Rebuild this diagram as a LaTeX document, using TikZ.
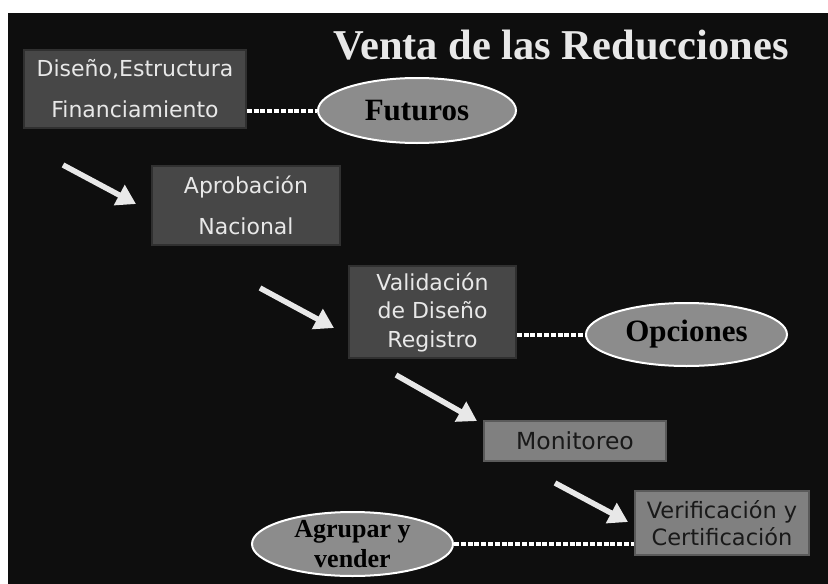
\documentclass[tikz,border=0pt]{standalone}
\usepackage{fontspec}
\setmainfont{Liberation Serif}
\newfontfamily\boxfont{DejaVu Sans}
\usetikzlibrary{arrows.meta,shapes.geometric}
\definecolor{bgc}{HTML}{0E0E0E}
\definecolor{darkfill}{HTML}{474747}
\definecolor{darkedge}{HTML}{303030}
\definecolor{midfill}{HTML}{808080}
\definecolor{midedge}{HTML}{5A5A5A}
\definecolor{ellfill}{HTML}{8C8C8C}
\definecolor{lighttext}{HTML}{E8E8E8}
\definecolor{arrowc}{HTML}{E8E8E8}
\begin{document}
\begin{tikzpicture}[x=1pt,y=-1pt,
  darkbox/.style={rectangle,fill=darkfill,draw=darkedge,line width=1.5pt,inner sep=0pt,
    align=center,text=lighttext,font=\boxfont\fontsize{22}{41}\selectfont},
  lightbox/.style={rectangle,fill=midfill,draw=midedge,line width=1.5pt,inner sep=0pt,
    align=center,text=black!90,font=\boxfont\fontsize{22.5}{27}\selectfont},
  oval/.style={ellipse,fill=ellfill,draw=white,line width=2pt,inner sep=0pt,
    align=center,text=black,font=\bfseries\fontsize{31}{31}\selectfont},
  flowarrow/.style={draw=arrowc,line width=5.5pt,-{Triangle[width=22pt,length=19pt]}},
  dots/.style={draw=white,line width=4pt,dash pattern=on 5pt off 1.8pt}]
\useasboundingbox (0,0) rectangle (828,584);
\fill[white] (0,0) rectangle (828,584);
\fill[bgc] (8,13) rectangle (828,584);

\node[text=lighttext,font=\bfseries\fontsize{42.5}{42.5}\selectfont] (title) at (561,45) {Venta de las Reducciones};

\node[darkbox,minimum width=222pt,minimum height=78pt] (b1) at (135,89) {Diseño,Estructura\\Financiamiento};
\node[darkbox,minimum width=188pt,minimum height=79pt] (b2) at (246,205.5) {Aprobación\\Nacional};
\node[darkbox,minimum width=167pt,minimum height=92pt,font=\boxfont\fontsize{22}{28.5}\selectfont] (b3) at (432.5,312) {Validación\\de Diseño\\Registro};
\node[lightbox,minimum width=182pt,minimum height=40pt,font=\boxfont\fontsize{23.5}{27}\selectfont] (b4) at (575,441) {Monitoreo};
\node[lightbox,minimum width=174pt,minimum height=64pt] (b5) at (722,523) {Verificación y\\Certificación};

\node[oval,minimum width=198pt,minimum height=65pt] (fut) at (417,110.5) {Futuros};
\node[oval,minimum width=201pt,minimum height=63pt] (opc) at (686.5,334.5) {Opciones};
\node[oval,minimum width=201pt,minimum height=64pt,font=\bfseries\fontsize{26}{30}\selectfont] (agr) at (352.5,544)
  {\parbox[c][36pt][c]{140pt}{\centering Agrupar y\\vender}};

\draw[dots] (fut.west -| b1.east) -- (fut.west);
\draw[dots] (opc.west -| b3.east) -- (opc.west);
\draw[dots] (agr.east) -- (agr.east -| b5.west);

\coordinate (a1s) at (63,165);
\coordinate (a1e) at (136,204);
\coordinate (a2s) at (260,288);
\coordinate (a2e) at (334,328);
\coordinate (a3s) at (396,375);
\coordinate (a3e) at (477,421);
\coordinate (a4s) at (555,483);
\coordinate (a4e) at (628,522);
\draw[flowarrow] (a1s) -- (a1e);
\draw[flowarrow] (a2s) -- (a2e);
\draw[flowarrow] (a3s) -- (a3e);
\draw[flowarrow] (a4s) -- (a4e);
\end{tikzpicture}
\end{document}
